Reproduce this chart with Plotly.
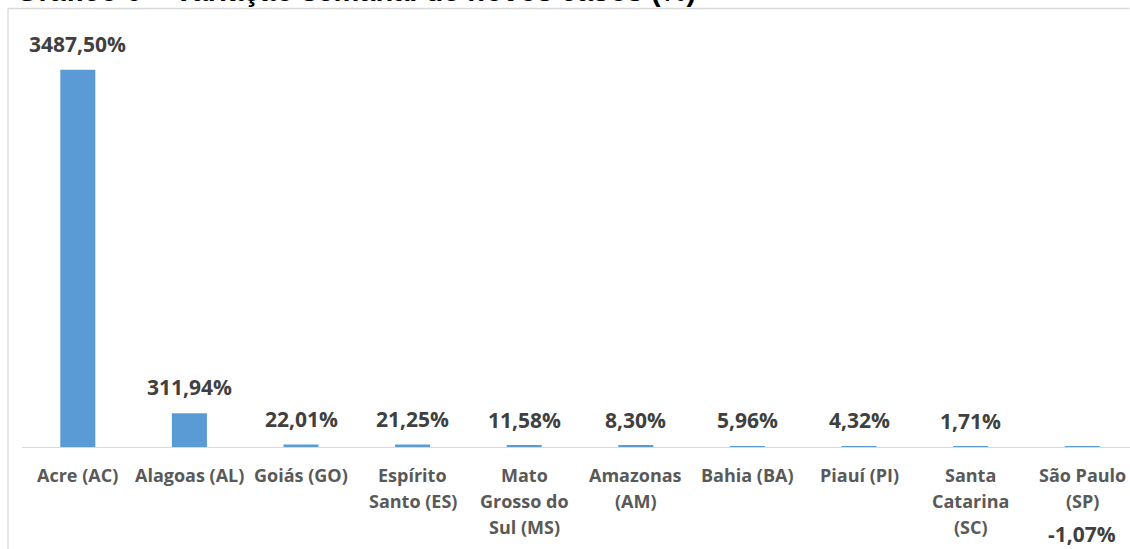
import plotly.graph_objects as go

# ---- data ----
categories = ["Acre (AC)", "Alagoas (AL)", "Goiás (GO)", "Espírito\nSanto (ES)",
              "Mato\nGrosso do\nSul (MS)", "Amazonas\n(AM)", "Bahia (BA)",
              "Piauí (PI)", "Santa\nCatarina\n(SC)", "São Paulo\n(SP)"]
values = [3487.50, 311.94, 22.01, 21.25, 11.58, 8.30, 5.96, 4.32, 1.71, -1.07]
title_text = "Gráfico 6 – Variação semanal de novos casos (%)"

# ---- layout geometry ----
W, H = 1130, 549
ML, MR, MT, MB = 22, 0, 9, 102
PW, PH = W - ML - MR, H - MT - MB
CAT_W = 111.6                       # px per category
x_range = [-0.5, -0.5 + PW / CAT_W]
y_range = [min(values), 4050]

keys = list(range(len(categories)))

def fmt(v):
    return f"{v:.2f}".replace(".", ",") + "%"

fig = go.Figure()
fig.add_trace(go.Bar(x=keys, y=values, marker=dict(color="#5b9bd5", line=dict(width=0)),
                     hoverinfo="skip"))

annotations = []
# value labels
for k, v in zip(keys, values):
    annotations.append(dict(x=k, y=v, xref="x", yref="y", text=fmt(v), showarrow=False,
                            xanchor="center", yanchor="middle",
                            yshift=26 if v >= 0 else -87,
                            font=dict(family="Open Sans", size=21, color="#404040", weight="bold")))
# category labels (one annotation per line for Excel-like line spacing)
for k, cat in zip(keys, categories):
    for j, line in enumerate(cat.split("\n")):
        annotations.append(dict(x=k, y=0, xref="x", yref="y", text=line, showarrow=False,
                                xanchor="center", yanchor="middle", yshift=-28 - 26 * j,
                                font=dict(family="Open Sans", size=18, color="#595959", weight="bold")))

def px_x(p):
    return (p - ML) / PW

def px_y(p):
    return 1 - (p - MT) / PH

# title (cut off at top, as in the reference)
annotations.append(dict(x=px_x(14), y=px_y(-9.5), xref="paper", yref="paper",
                        text=title_text, showarrow=False, xanchor="left", yanchor="middle",
                        font=dict(family="Liberation Sans", size=29, color="#000000", weight="bold")))

shapes = [
    dict(type="line", xref="paper", yref="paper", x0=px_x(8), x1=px_x(1129.5), y0=px_y(8.5), y1=px_y(8.5),
         line=dict(color="#d9d9d9", width=1.3)),
    dict(type="line", xref="paper", yref="paper", x0=px_x(8), x1=px_x(8), y0=px_y(8.5), y1=px_y(560),
         line=dict(color="#d9d9d9", width=1.3)),
]

fig.update_layout(
    width=W, height=H,
    margin=dict(l=ML, r=MR, t=MT, b=MB, pad=0),
    paper_bgcolor="white", plot_bgcolor="white",
    bargap=0.686,
    showlegend=False,
    annotations=annotations,
    shapes=shapes,
    xaxis=dict(range=x_range, showticklabels=False, showgrid=False, zeroline=False,
               showline=True, linecolor="#d9d9d9", linewidth=1.3, ticks=""),
    yaxis=dict(range=y_range, visible=False, showgrid=False, zeroline=False),
)

fig.write_html("out.html", config={"displayModeBar": False},
               post_script="document.body.style.margin='0';document.body.style.overflow='hidden';")
